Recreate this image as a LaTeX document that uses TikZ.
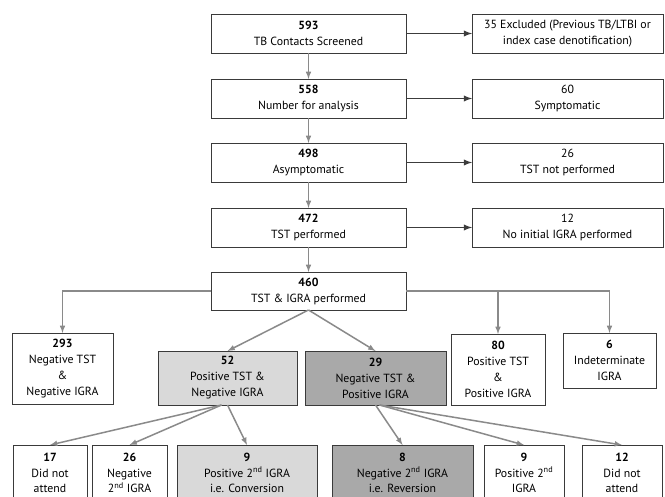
\documentclass[tikz,border=0pt]{standalone}
\usepackage{fontspec}
\setmainfont{PT Sans}
\usetikzlibrary{arrows}

\definecolor{boxline}{HTML}{3A3A3A}
\definecolor{flowgray}{HTML}{8A8A8A}
\definecolor{sidearrow}{HTML}{3C3C3C}
\definecolor{convfill}{HTML}{D9D9D9}
\definecolor{revfill}{HTML}{A9A9A9}

\tikzset{
  box/.style={draw=boxline, line width=0.9pt, align=center, inner sep=1pt, outer sep=0pt,
    font=\fontsize{11.8}{16}\selectfont},
  mainbox/.style={box, minimum width=195, minimum height=39},
  sidebox/.style={box, minimum width=191, minimum height=39},
  lowbox/.style={box, minimum height=56, font=\fontsize{11.8}{15.5}\selectfont},
  flow/.style={draw=flowgray, line width=1.5pt, -latex},
  aside/.style={draw=sidearrow, line width=1.8pt, -latex}
}

\begin{document}
\begin{tikzpicture}[x=1pt, y=-1pt]
  \clip (0,0) rectangle (665,497);

  % main column
  \node [mainbox] (n593) at (308.5,33.5) {\textbf{593}\\TB Contacts Screened};
  \node [mainbox] (n558) at (308.5,98.5) {\textbf{558}\\Number for analysis};
  \node [mainbox] (n498) at (308.5,162.5) {\textbf{498}\\Asymptomatic};
  \node [mainbox] (n472) at (308.5,227.5) {\textbf{472}\\TST performed};
  \node [mainbox, minimum height=38] (n460) at (308.5,291) {\textbf{460}\\TST \& IGRA performed};

  % excluded on the right
  \node [sidebox] (nexcl) at (567.5,33.5) {35 Excluded (Previous TB/LTBI or\\index case denotification)};
  \node [sidebox] (nsympt) at (567.5,98.5) {60\\Symptomatic};
  \node [sidebox] (nnotst) at (567.5,162.5) {26\\TST not performed};
  \node [sidebox] (nnoigra) at (567.5,227.5) {12\\No initial IGRA performed};

  % TST / IGRA results
  \node [box, minimum width=101, minimum height=71] (n293) at (62.5,368.5) {\textbf{293}\\Negative TST\\\&\\Negative IGRA};
  \node [box, fill=convfill, minimum width=139, minimum height=54] (n52) at (227.5,378) {\textbf{52}\\Positive TST \&\\Negative IGRA};
  \node [box, fill=revfill, minimum width=141, minimum height=54] (n29) at (375.5,378) {\textbf{29}\\Negative TST \&\\Positive IGRA};
  \node [box, minimum width=94, minimum height=71] (n80) at (498,369.5) {\textbf{80}\\Positive TST\\\&\\Positive IGRA};
  \node [box, minimum width=93, minimum height=55] (n6) at (609.5,360.5) {\textbf{6}\\Indeterminate\\IGRA};

  % second IGRA
  \node [lowbox, minimum width=74] (n17) at (50,473) {\textbf{17}\\Did not\\attend};
  \node [lowbox, minimum width=75] (n26) at (129.5,473) {\textbf{26}\\Negative\\2\textsuperscript{nd} IGRA};
  \node [lowbox, fill=convfill, minimum width=140] (nconv) at (247,473) {\textbf{9}\\Positive 2\textsuperscript{nd} IGRA\\i.e. Conversion};
  \node [lowbox, fill=revfill, minimum width=141] (nrev) at (402.5,473) {\textbf{8}\\Negative 2\textsuperscript{nd} IGRA\\i.e. Reversion};
  \node [lowbox, minimum width=80] (n9) at (524,473) {\textbf{9}\\Positive 2\textsuperscript{nd}\\IGRA};
  \node [lowbox, minimum width=80] (n12) at (622,473) {\textbf{12}\\Did not\\attend};

  \draw [flow] (n593) -- (n558);
  \draw [flow] (n558) -- (n498);
  \draw [flow] (n498) -- (n472);
  \draw [flow] (n472) -- (n460);

  \draw [aside] (n593) -- (nexcl);
  \draw [aside] (n558) -- (nsympt);
  \draw [aside] (n498) -- (nnotst);
  \draw [aside] (n472) -- (nnoigra);

  \draw [flow] (n460.west) -| (n293.north);
  \draw [flow] (n460.east) -| (n80.north);
  \draw [flow] (n460.east) -| (n6.north);
  \draw [flow] (n460.south) -- (n52.north);
  \draw [flow] (n460.south) -- (n29.north);

  \draw [flow] ([xshift=-6]n52.south) -- (n17.north);
  \draw [flow] ([xshift=-6]n52.south) -- (n26.north);
  \draw [flow] (n52.south) -- (nconv.north);
  \draw [flow] (n29.south) -- (nrev.north);
  \draw [flow] ([xshift=4]n29.south) -- (n9.north);
  \draw [flow] ([xshift=4]n29.south) -- (n12.north);
\end{tikzpicture}
\end{document}
